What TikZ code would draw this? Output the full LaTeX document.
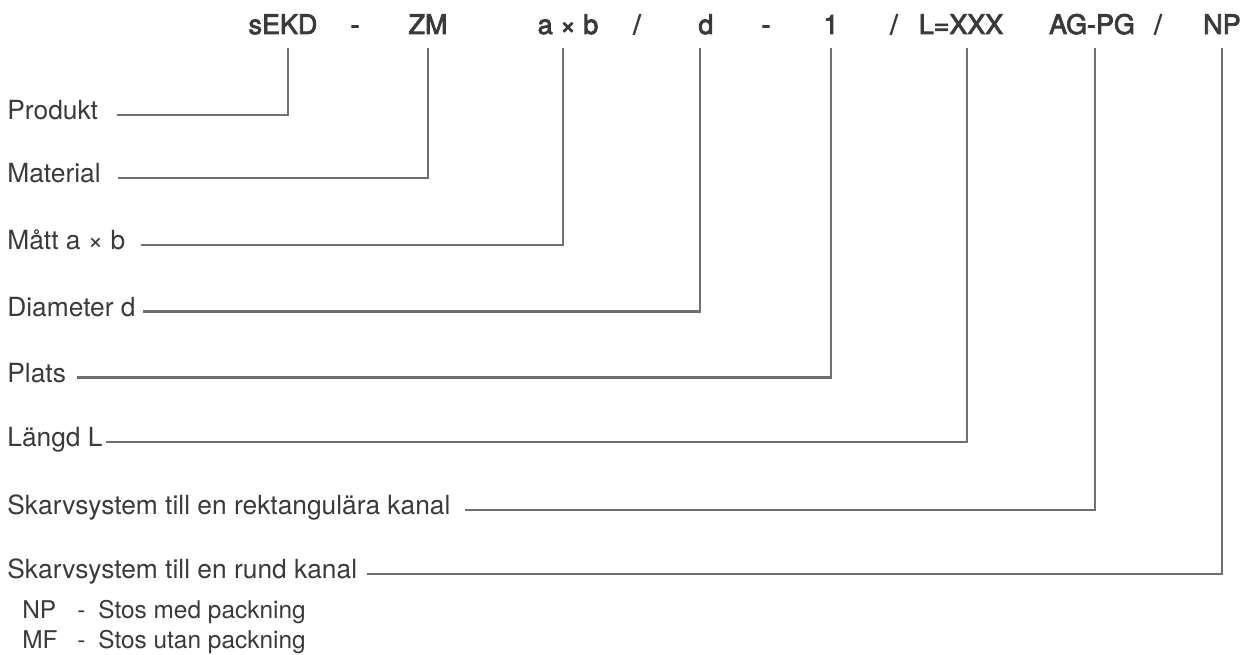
\documentclass[tikz,border=0pt]{standalone}
\usepackage{fontspec}
\setmainfont{TeX Gyre Heros}
\newfontfamily\codefont{TeX Gyre Heros}[FakeBold=3]
\definecolor{txtgray}{RGB}{58,58,58}
\definecolor{linegray}{RGB}{112,112,112}

\begin{document}
\begin{tikzpicture}[x=0.02cm, y=-0.02cm,
  lab/.style={inner sep=0pt, text=txtgray, font=\fontsize{15}{18}\selectfont},
  code/.style={lab, anchor=base, font=\codefont\fontsize{15.3}{18}\selectfont},
  note/.style={inner sep=0pt, anchor=base west, text=txtgray, font=\fontsize{13.9}{16}\selectfont},
  conn/.style={draw=linegray, line width=1.25pt}]
\useasboundingbox (0,0) rectangle (1252,655);

%*** Type code ***
\node[code] (c-prod) at (283,34) {sEKD};
\node[code] (c-s1) at (355,34) {-};
\node[code] (c-mat) at (428,34) {ZM};
\node[code] (c-dim) at (568,34) {a × b};
\node[code] (c-s2) at (637,34) {/};
\node[code] (c-dia) at (706,34) {d};
\node[code] (c-s3) at (766,34) {-};
\node[code] (c-pl) at (831,34) {1};
\node[code] (c-s4) at (894,34) {/};
\node[code] (c-len) at (961,34) {L=XXX};
\node[code] (c-rekt) at (1092,34) {AG-PG};
\node[code] (c-s5) at (1158,34) {/};
\node[code] (c-rund) at (1222,34) {NP};

%Upper ends of the leaders
\coordinate (e-prod) at (288,48);
\coordinate (e-mat) at (428,48);
\coordinate (e-dim) at (563,48);
\coordinate (e-dia) at (700,48);
\coordinate (e-pl) at (831,48);
\coordinate (e-len) at (967,48);
\coordinate (e-rekt) at (1095,48);
\coordinate (e-rund) at (1222,48);

%*** Labels ***
\node[lab, anchor=mid west] (l-prod) at (7,115) {Produkt};
\node[lab, anchor=mid west] (l-mat) at (7,178) {Material};
\node[lab, anchor=mid west] (l-dim) at (7,245) {Mått a × b};
\node[lab, anchor=mid west] (l-dia) at (7,311.5) {Diameter d};
\node[lab, anchor=mid west] (l-pl) at (7,377.5) {Plats};
\node[lab, anchor=mid west] (l-len) at (7,442) {Längd L};
\node[lab, anchor=mid west] (l-rekt) at (7,510) {Skarvsystem till en rektangulära kanal};
\node[lab, anchor=mid west] (l-rund) at (7,574) {Skarvsystem till en rund kanal};

%Leaders
\draw[conn] ([xshift=10.8pt]l-prod.mid east) -| (e-prod);
\draw[conn] ([xshift=9.6pt]l-mat.mid east) -| (e-mat);
\draw[conn] ([xshift=8.5pt]l-dim.mid east) -| (e-dim);
\draw[conn] ([xshift=4pt]l-dia.mid east) -| (e-dia);
\draw[conn] ([xshift=6.2pt]l-pl.mid east) -| (e-pl);
\draw[conn] ([xshift=1.7pt]l-len.mid east) -| (e-len);
\draw[conn] ([xshift=8pt]l-rekt.mid east) -| (e-rekt);
\draw[conn] ([xshift=5.7pt]l-rund.mid east) -| (e-rund);

%Legend
\node[note] (n-np) at (22,618) {NP};
\node[note] (n-d1) at (77,618) {-};
\node[note] (n-np-t) at (98,618) {Stos med packning};
\node[note] (n-mf) at (22,648) {MF};
\node[note] (n-d2) at (77,648) {-};
\node[note] (n-mf-t) at (98,648) {Stos utan packning};
\end{tikzpicture}
\end{document}
